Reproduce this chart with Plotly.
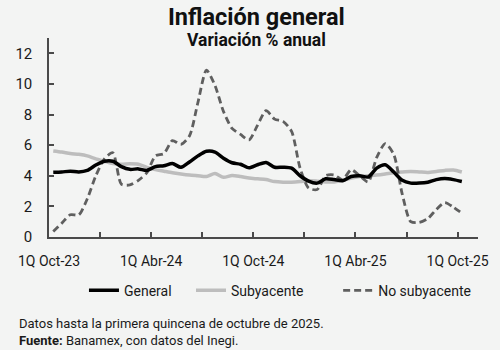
import plotly.graph_objects as go

# --- data (biweekly, 1Q Oct-23 ... 1Q Oct-25) ---
general = [4.23, 4.25, 4.30, 4.25, 4.35, 4.70, 4.95, 4.95, 4.60, 4.42,
           4.45, 4.35, 4.60, 4.65, 4.80, 4.55, 4.90, 5.30, 5.60, 5.55,
           5.15, 4.85, 4.75, 4.52, 4.72, 4.87, 4.56, 4.56, 4.50, 4.00,
           3.65, 3.52, 3.80, 3.75, 3.68, 3.95, 4.00, 3.92, 4.50, 4.72,
           4.25, 3.70, 3.52, 3.52, 3.58, 3.75, 3.82, 3.75, 3.63]
subyacente = [5.62, 5.55, 5.45, 5.40, 5.30, 5.10, 4.95, 4.80, 4.75, 4.78,
              4.75, 4.55, 4.40, 4.30, 4.20, 4.12, 4.05, 4.00, 3.95, 4.15,
              3.90, 4.02, 3.95, 3.85, 3.80, 3.75, 3.62, 3.58, 3.58, 3.62,
              3.68, 3.65, 3.60, 3.60, 3.70, 3.85, 3.95, 4.00, 4.05, 4.12,
              4.20, 4.25, 4.28, 4.25, 4.22, 4.28, 4.35, 4.38, 4.25]
no_subyacente = [0.36, 0.90, 1.45, 1.45, 2.50, 4.00, 5.10, 5.50, 3.45, 3.40,
                 3.70, 4.20, 5.30, 5.45, 6.30, 6.05, 6.60, 8.80, 10.90, 9.90,
                 8.20, 7.10, 6.70, 6.35, 7.30, 8.25, 7.70, 7.55, 6.90, 4.50,
                 3.20, 3.10, 4.00, 4.05, 3.75, 4.40, 4.00, 3.60, 5.20, 6.10,
                 5.40, 2.80, 1.00, 0.95, 1.20, 1.80, 2.25, 1.95, 1.55]
tick_labels = ["1Q Oct-23", "1Q Abr-24", "1Q Oct-24", "1Q Abr-25", "1Q Oct-25"]
label_every = 12
series_names = ["General", "Subyacente", "No subyacente"]

n = len(general)
x = list(range(n))
label_pos = [i * label_every - 0.5 for i in range(len(tick_labels))]
minor_pos = [p + 6 for p in label_pos[:-1]]

FONT = "Roboto"
axis_col = "#4a4a4a"
fig = go.Figure()
# draw order: light gray, dashed, black on top
fig.add_trace(go.Scatter(x=x, y=subyacente, name=series_names[1], mode="lines",
                         legend="legend2",
                         line=dict(color="#bdbdbd", width=3.5, shape="spline", smoothing=0.7)))
fig.add_trace(go.Scatter(x=x, y=no_subyacente, name=series_names[2], mode="lines",
                         legend="legend3",
                         line=dict(color="#5f5f5f", width=2.8, dash="7px,4px",
                                   shape="spline", smoothing=0.7)))
fig.add_trace(go.Scatter(x=x, y=general, name=series_names[0], mode="lines",
                         legend="legend",
                         line=dict(color="#000000", width=3.5, shape="spline", smoothing=0.7)))

leg_common = dict(orientation="h", xanchor="left", y=-0.27, yanchor="middle",
                  font=dict(size=14, color="#1a1a1a", family=FONT),
                  bgcolor="rgba(0,0,0,0)")
fig.update_layout(
    width=500, height=350,
    margin=dict(l=49, r=13, t=38, b=113),
    paper_bgcolor="#f3f4f3", plot_bgcolor="#f3f4f3",
    font=dict(family=FONT, color="#1a1a1a", size=14),
    showlegend=True,
    legend=dict(x=0.0815, **leg_common),
    legend2=dict(x=0.331, **leg_common),
    legend3=dict(x=0.674, **leg_common),
    xaxis=dict(range=[-0.5, 49.9], tickmode="array", tickvals=label_pos,
               ticktext=tick_labels, ticks="inside", ticklen=5, tickcolor=axis_col,
               tickwidth=1.5, showline=True, linecolor=axis_col,
               linewidth=1.5, showgrid=False, zeroline=False,
               tickfont=dict(size=14, color="#1a1a1a"), ticklabelstandoff=10,
               ticklabeloverflow="allow",
               minor=dict(tickvals=minor_pos, ticks="inside", ticklen=5,
                          tickcolor=axis_col, tickwidth=1.5, showgrid=False)),
    yaxis=dict(range=[0, 13], tickmode="array", tickvals=list(range(0, 13, 2)),
               ticks="inside", ticklen=5, tickcolor=axis_col, tickwidth=1.5,
               showline=True, linecolor=axis_col, linewidth=1.5, showgrid=False,
               zeroline=False, tickfont=dict(size=15, color="#1a1a1a"),
               ticklabelstandoff=12),
)

fig.add_annotation(text="<b>Inflación general</b>", xref="paper", yref="paper",
                   x=0.483, y=1.106, xanchor="center", yanchor="middle",
                   showarrow=False, font=dict(size=23.5, color="#111111", family=FONT))
fig.add_annotation(text="<b>Variación % anual</b>", xref="paper", yref="paper",
                   x=0.483, y=0.99, xanchor="center", yanchor="middle",
                   showarrow=False, font=dict(size=17.5, color="#111111", family=FONT))
fig.add_annotation(text="Datos hasta la primera quincena de octubre de 2025.",
                   xref="paper", yref="paper", x=-0.0738, y=-0.434,
                   xanchor="left", yanchor="middle", showarrow=False,
                   font=dict(size=13, color="#1a1a1a", family=FONT))
fig.add_annotation(text="<b>Fuente:</b> Banamex, con datos del Inegi.",
                   xref="paper", yref="paper", x=-0.0738, y=-0.518,
                   xanchor="left", yanchor="middle", showarrow=False,
                   font=dict(size=13, color="#1a1a1a", family=FONT))

fig.write_html("out.html")
